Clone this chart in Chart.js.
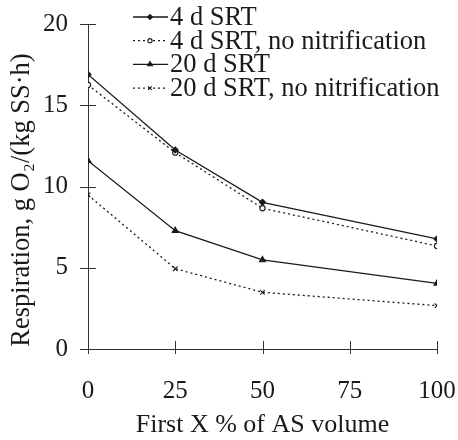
<!DOCTYPE html>
<html><head><meta charset="utf-8">
<script src="https://cdn.jsdelivr.net/npm/chart.js@4/dist/chart.umd.min.js"></script>
<style>html,body{margin:0;padding:0;background:#fff}#wrap{width:458px;height:440px}</style>
</head><body><div id="wrap"><canvas id="c" width="458" height="440"></canvas></div>
<script>
const xValues = [0, 25, 50, 100];
const xTicks = [0, 25, 50, 75, 100];
const yTicks = [0, 5, 10, 15, 20];
const seriesNames = ["4 d SRT", "4 d SRT, no nitrification", "20 d SRT", "20 d SRT, no nitrification"];
const srt4 = [16.9, 12.25, 9.03, 6.77];
const srt4NoNit = [16.25, 12.08, 8.66, 6.34];
const srt20 = [11.59, 7.28, 5.48, 4.04];
const srt20NoNit = [9.48, 4.94, 3.49, 2.67];
const xTitle = 'First X % of AS volume';
const yTitle = 'Respiration, g O\u2082/(kg SS\u00b7h)';

const FONT = "'Liberation Serif', 'Times New Roman', serif";
const ink = '#1a1a1a';
function pts(arr){ return xValues.map((x,i)=>({x:x,y:arr[i]})); }

const styles = [
  {pointStyle:'rectRot', radius:3, dash:[], fill:ink},
  {pointStyle:'circle', radius:2.6, dash:[2,3], fill:'#fff'},
  {pointStyle:'triangle', radius:3.5, dash:[], fill:ink},
  {pointStyle:'crossRot', radius:3.2, dash:[2,3], fill:ink}
];
const allSeries = [srt4, srt4NoNit, srt20, srt20NoNit];

const datasets = allSeries.map((s,i)=>({
  label: seriesNames[i],
  data: pts(s),
  borderColor: ink,
  borderWidth: 1.3,
  borderDash: styles[i].dash,
  pointStyle: styles[i].pointStyle,
  pointRadius: styles[i].radius,
  pointBackgroundColor: styles[i].fill,
  pointBorderColor: ink,
  pointBorderWidth: 1.1,
  tension: 0
}));

const tickPlugin = {
  id:'crossTicks',
  afterDraw(chart){
    const ctx = chart.ctx, xs = chart.scales.x, ys = chart.scales.y;
    const ax = chart.chartArea.left, ay = chart.chartArea.bottom;
    ctx.save();
    ctx.strokeStyle = '#333'; ctx.lineWidth = 1;
    yTicks.forEach(v=>{
      const y = Math.round(ys.getPixelForValue(v))+0.5;
      ctx.beginPath(); ctx.moveTo(ax-8,y); ctx.lineTo(ax+8,y); ctx.stroke();
    });
    xTicks.forEach(v=>{
      const x = Math.round(xs.getPixelForValue(v))+0.5;
      ctx.beginPath(); ctx.moveTo(x,ay-8); ctx.lineTo(x,ay+5); ctx.stroke();
    });
    // y axis title
    ctx.save();
    ctx.translate(22, 200);
    ctx.rotate(-Math.PI/2);
    ctx.fillStyle = ink; ctx.font = "26.5px " + FONT; ctx.textAlign='center'; ctx.textBaseline='middle';
    ctx.fillText(yTitle, 0, 0);
    ctx.restore();
    // legend
    chart.data.datasets.forEach((d,i)=>{
      const y = 17 + i*23.7;
      ctx.save();
      ctx.strokeStyle = ink; ctx.lineWidth = 1.3;
      ctx.setLineDash(d.borderDash);
      ctx.beginPath(); ctx.moveTo(133,y); ctx.lineTo(168,y); ctx.stroke();
      ctx.setLineDash([]);
      ctx.fillStyle = d.pointBackgroundColor; ctx.strokeStyle = ink; ctx.lineWidth = 1.1;
      Chart.helpers.drawPoint(ctx, {pointStyle:d.pointStyle, radius:d.pointRadius*0.8, borderWidth:1.1}, 150, y);
      ctx.fillStyle = ink; ctx.font = "26.5px " + FONT; ctx.textBaseline = 'middle'; ctx.textAlign='left';
      ctx.fillText(d.label, 170, y+1);
      ctx.restore();
    });
    ctx.restore();
  }
};

new Chart(document.getElementById('c'), {
  type:'line',
  data:{datasets:datasets},
  options:{
    responsive:false, animation:false, events:[],
    layout:{padding:{left:0,right:21,top:24,bottom:0}},
    plugins:{legend:{display:false}, tooltip:{enabled:false}},
    scales:{
      x:{type:'linear', min:0, max:100,
        afterBuildTicks(s){ s.ticks = xTicks.map(v=>({value:v})); },
        afterFit(s){ s.height = 91; s.paddingLeft = 0; s.paddingRight = 0; },
        grid:{display:false, drawTicks:false},
        border:{display:true, color:'#333', width:1},
        ticks:{color:ink, padding:27, maxRotation:0, font:{family:FONT, size:25}},
        title:{display:true, text:xTitle, color:ink, font:{family:FONT, size:26}, padding:{top:0,bottom:-1}}
      },
      y:{type:'linear', min:0, max:20,
        afterBuildTicks(s){ s.ticks = yTicks.map(v=>({value:v})); },
        afterFit(s){ s.width = 88; s.paddingTop = 0; s.paddingBottom = 0; },
        grid:{display:false, drawTicks:false},
        border:{display:true, color:'#333', width:1},
        ticks:{color:ink, padding:20, font:{family:FONT, size:25}},
        title:{display:false, text:yTitle}
      }
    }
  },
  plugins:[tickPlugin]
});
</script></body></html>
